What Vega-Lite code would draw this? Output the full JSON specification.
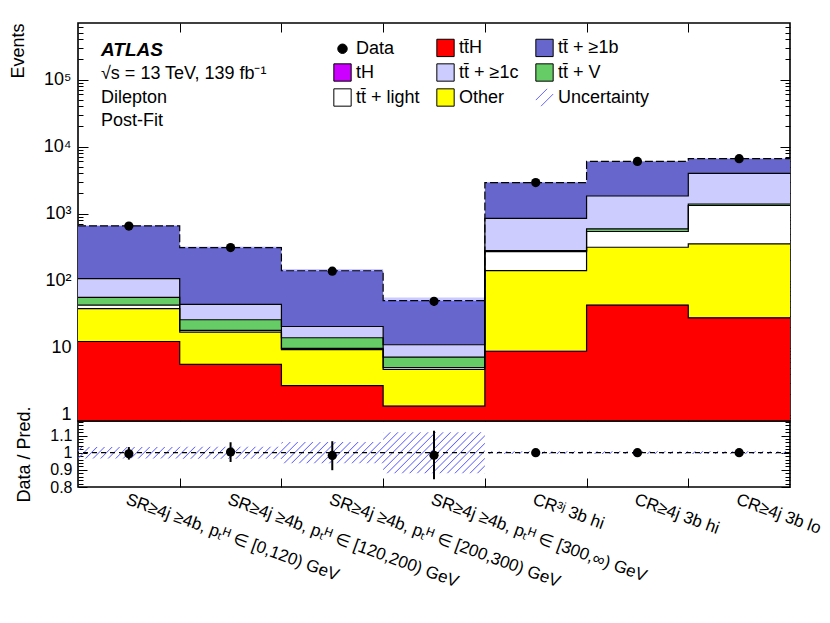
{
  "$schema": "https://vega.github.io/schema/vega-lite/v6.json",
  "background": "white",
  "padding": {"left": 8, "top": 17, "right": 10, "bottom": 5},
  "datasets": {
    "hist": [
      {"p": "tt\u0304H", "e": 0, "lo": 0.1, "hi": 12.3}, {"p": "tt\u0304H", "e": 1, "lo": 0.1, "hi": 5.6},
      {"p": "tt\u0304H", "e": 2, "lo": 0.1, "hi": 2.7}, {"p": "tt\u0304H", "e": 3, "lo": 0.1, "hi": 1.33},
      {"p": "tt\u0304H", "e": 4, "lo": 0.1, "hi": 8.8}, {"p": "tt\u0304H", "e": 5, "lo": 0.1, "hi": 43},
      {"p": "tt\u0304H", "e": 6, "lo": 0.1, "hi": 27.7}, {"p": "tt\u0304H", "e": 7, "lo": 0.1, "hi": 27.7},
      {"p": "tH", "e": 0, "lo": 12.3, "hi": 12.5}, {"p": "tH", "e": 1, "lo": 5.6, "hi": 5.7},
      {"p": "tH", "e": 2, "lo": 2.7, "hi": 2.75}, {"p": "tH", "e": 3, "lo": 1.33, "hi": 1.36},
      {"p": "tH", "e": 4, "lo": 8.8, "hi": 9.0}, {"p": "tH", "e": 5, "lo": 43, "hi": 44},
      {"p": "tH", "e": 6, "lo": 27.7, "hi": 28.3}, {"p": "tH", "e": 7, "lo": 27.7, "hi": 28.3},
      {"p": "Other", "e": 0, "lo": 12.5, "hi": 38}, {"p": "Other", "e": 1, "lo": 5.7, "hi": 17},
      {"p": "Other", "e": 2, "lo": 2.75, "hi": 9.3}, {"p": "Other", "e": 3, "lo": 1.36, "hi": 4.7},
      {"p": "Other", "e": 4, "lo": 9.0, "hi": 141}, {"p": "Other", "e": 5, "lo": 44, "hi": 314},
      {"p": "Other", "e": 6, "lo": 28.3, "hi": 353}, {"p": "Other", "e": 7, "lo": 28.3, "hi": 353},
      {"p": "tt\u0304 + light", "e": 0, "lo": 38, "hi": 43}, {"p": "tt\u0304 + light", "e": 1, "lo": 17, "hi": 18},
      {"p": "tt\u0304 + light", "e": 2, "lo": 9.3, "hi": 9.7}, {"p": "tt\u0304 + light", "e": 3, "lo": 4.7, "hi": 5.0},
      {"p": "tt\u0304 + light", "e": 4, "lo": 141, "hi": 270}, {"p": "tt\u0304 + light", "e": 5, "lo": 314, "hi": 540},
      {"p": "tt\u0304 + light", "e": 6, "lo": 353, "hi": 1320}, {"p": "tt\u0304 + light", "e": 7, "lo": 353, "hi": 1320},
      {"p": "tt\u0304 + V", "e": 0, "lo": 43, "hi": 56}, {"p": "tt\u0304 + V", "e": 1, "lo": 18, "hi": 26},
      {"p": "tt\u0304 + V", "e": 2, "lo": 9.7, "hi": 14}, {"p": "tt\u0304 + V", "e": 3, "lo": 5.0, "hi": 7.2},
      {"p": "tt\u0304 + V", "e": 4, "lo": 270, "hi": 280}, {"p": "tt\u0304 + V", "e": 5, "lo": 540, "hi": 590},
      {"p": "tt\u0304 + V", "e": 6, "lo": 1320, "hi": 1390}, {"p": "tt\u0304 + V", "e": 7, "lo": 1320, "hi": 1390},
      {"p": "tt\u0304 + ≥1c", "e": 0, "lo": 56, "hi": 107}, {"p": "tt\u0304 + ≥1c", "e": 1, "lo": 26, "hi": 44},
      {"p": "tt\u0304 + ≥1c", "e": 2, "lo": 14, "hi": 20.6}, {"p": "tt\u0304 + ≥1c", "e": 3, "lo": 7.2, "hi": 11},
      {"p": "tt\u0304 + ≥1c", "e": 4, "lo": 280, "hi": 850}, {"p": "tt\u0304 + ≥1c", "e": 5, "lo": 590, "hi": 1830},
      {"p": "tt\u0304 + ≥1c", "e": 6, "lo": 1390, "hi": 3970}, {"p": "tt\u0304 + ≥1c", "e": 7, "lo": 1390, "hi": 3970},
      {"p": "tt\u0304 + ≥1b", "e": 0, "lo": 107, "hi": 655}, {"p": "tt\u0304 + ≥1b", "e": 1, "lo": 44, "hi": 310},
      {"p": "tt\u0304 + ≥1b", "e": 2, "lo": 20.6, "hi": 140}, {"p": "tt\u0304 + ≥1b", "e": 3, "lo": 11, "hi": 50},
      {"p": "tt\u0304 + ≥1b", "e": 4, "lo": 850, "hi": 2900}, {"p": "tt\u0304 + ≥1b", "e": 5, "lo": 1830, "hi": 6000},
      {"p": "tt\u0304 + ≥1b", "e": 6, "lo": 3970, "hi": 6600}, {"p": "tt\u0304 + ≥1b", "e": 7, "lo": 3970, "hi": 6600}
    ],
    "unc": [
      {"e": 0, "plo": 633, "phi": 677, "ulo": 0.966, "uhi": 1.034},
      {"e": 1, "plo": 299, "phi": 321, "ulo": 0.965, "uhi": 1.035},
      {"e": 2, "plo": 131, "phi": 149, "ulo": 0.938, "uhi": 1.062},
      {"e": 3, "plo": 44, "phi": 56, "ulo": 0.88, "uhi": 1.12},
      {"e": 4, "plo": 2877, "phi": 2923, "ulo": 0.992, "uhi": 1.008},
      {"e": 5, "plo": 5952, "phi": 6048, "ulo": 0.992, "uhi": 1.008},
      {"e": 6, "plo": 6547, "phi": 6653, "ulo": 0.992, "uhi": 1.008},
      {"e": 7, "plo": 6547, "phi": 6653, "ulo": 0.992, "uhi": 1.008}
    ],
    "pts": [
      {"b": 0.5, "n": 651, "nlo": 626, "nhi": 676, "r": 0.994, "rlo": 0.96, "rhi": 1.033},
      {"b": 1.5, "n": 311, "nlo": 293, "nhi": 329, "r": 1.004, "rlo": 0.946, "rhi": 1.061},
      {"b": 2.5, "n": 138, "nlo": 126, "nhi": 150, "r": 0.984, "rlo": 0.898, "rhi": 1.067},
      {"b": 3.5, "n": 49, "nlo": 42, "nhi": 56, "r": 0.985, "rlo": 0.845, "rhi": 1.128},
      {"b": 4.5, "n": 2900, "nlo": 2846, "nhi": 2954, "r": 1.0, "rlo": 0.981, "rhi": 1.019},
      {"b": 5.5, "n": 6000, "nlo": 5923, "nhi": 6077, "r": 1.0, "rlo": 0.987, "rhi": 1.013},
      {"b": 6.5, "n": 6600, "nlo": 6519, "nhi": 6681, "r": 1.0, "rlo": 0.988, "rhi": 1.012}
    ]
  },
  "spacing": 0,
  "bounds": "flush",
  "resolve": {"scale": {"x": "independent", "y": "independent"}},
  "vconcat": [
    {
      "width": 712,
      "height": 398,
      "resolve": {"axis": {"x": "independent", "y": "independent"}},
      "layer": [
        {
          "data": {"name": "hist"},
          "mark": {"type": "area", "interpolate": "step-after"},
          "encoding": {
            "x": {
              "field": "e", "type": "quantitative",
              "scale": {"domain": [0, 7], "nice": false, "zero": false},
              "axis": {"orient": "bottom", "values": [1, 2, 3, 4, 5, 6], "labels": false, "tickSize": -9, "title": null}
            },
            "y": {
              "field": "hi", "type": "quantitative", "stack": null,
              "scale": {"type": "log", "domain": [0.8, 700000], "nice": false, "clamp": true},
              "axis": {
                "orient": "left",
                "title": "Events",
                "titleAnchor": "end",
                "titlePadding": 16,
                "values": [0.9, 1, 2, 3, 4, 5, 6, 7, 8, 9, 10, 20, 30, 40, 50, 60, 70, 80, 90, 100, 200, 300, 400, 500, 600, 700, 800, 900, 1000, 2000, 3000, 4000, 5000, 6000, 7000, 8000, 9000, 10000, 20000, 30000, 40000, 50000, 60000, 70000, 80000, 90000, 100000, 200000, 300000, 400000, 500000, 600000],
                "labelExpr": "datum.value == 1 ? '1' : datum.value == 10 ? '10' : datum.value == 100 ? '10²' : datum.value == 1000 ? '10³' : datum.value == 10000 ? '10⁴' : datum.value == 100000 ? '10⁵' : ''",
                "tickSize": {"condition": {"test": "indexof([1, 10, 100, 1000, 10000, 100000], datum.value) >= 0", "value": -10}, "value": -5},
                "labelPadding": 17,
                "labelOverlap": false
              }
            },
            "y2": {"field": "lo"},
            "color": {
              "field": "p", "type": "nominal",
              "scale": {
                "domain": ["Data", "tH", "tt\u0304 + light", "tt\u0304H", "tt\u0304 + ≥1c", "Other", "tt\u0304 + ≥1b", "tt\u0304 + V", "Uncertainty"],
                "range": ["black", "#cc00ff", "#ffffff", "#ff0000", "#ccccff", "#ffff00", "#6666cc", "#66cc66", "#6666ff"]
              },
              "legend": {
                "orient": "none",
                "legendX": 255,
                "legendY": 15,
                "columns": 3,
                "title": null,
                "padding": 0,
                "labelFontSize": 18,
                "labelColor": "black",
                "labelOffset": 4,
                "symbolSize": 300,
                "symbolStrokeWidth": 1,
                "rowPadding": 2,
                "columnPadding": 14,
                "encode": {
                  "symbols": {
                    "update": {
                      "shape": {"signal": "datum.value === 'Data' ? 'circle' : datum.value === 'Uncertainty' ? 'M-1,0.3L0.3,-1M-0.4,1L1,-0.4' : 'square'"},
                      "size": {"signal": "datum.value === 'Data' ? 90 : 300"},
                      "stroke": {"signal": "datum.value === 'Uncertainty' ? '#6666ff' : 'black'"},
                      "fill": [{"test": "datum.value === 'Uncertainty'", "value": "transparent"}, {"scale": "color", "field": "value"}],
                      "strokeWidth": {"value": 1},
                      "opacity": {"value": 1}
                    }
                  }
                }
              }
            }
          }
        },
        {
          "data": {"name": "unc"},
          "mark": {"type": "area", "interpolate": "step-after", "fill": "#6666ff", "fillOpacity": 0.35},
          "encoding": {
            "x": {"field": "e", "type": "quantitative", "axis": null},
            "y": {"field": "phi", "type": "quantitative", "axis": null},
            "y2": {"field": "plo"}
          }
        },
        {
          "data": {"name": "hist"},
          "transform": [{"filter": "datum.p !== 'tH' && datum.p !== 'tt\u0304 + ≥1b'"}],
          "mark": {"type": "line", "interpolate": "step-after", "color": "black", "strokeWidth": 1.2},
          "encoding": {
            "x": {"field": "e", "type": "quantitative", "axis": null},
            "y": {"field": "hi", "type": "quantitative", "axis": null},
            "detail": {"field": "p"}
          }
        },
        {
          "data": {"name": "hist"},
          "transform": [{"filter": "datum.p === 'tt\u0304 + ≥1b'"}],
          "mark": {"type": "line", "interpolate": "step-after", "color": "black", "strokeWidth": 1.2, "strokeDash": [8, 3]},
          "encoding": {
            "x": {"field": "e", "type": "quantitative", "axis": null},
            "y": {"field": "hi", "type": "quantitative", "axis": null}
          }
        },
        {
          "data": {"name": "pts"},
          "mark": {"type": "rule", "color": "black", "strokeWidth": 2},
          "encoding": {
            "x": {"field": "b", "type": "quantitative", "axis": null},
            "y": {"field": "nlo", "type": "quantitative", "axis": null},
            "y2": {"field": "nhi"}
          }
        },
        {
          "data": {"name": "pts"},
          "mark": {"type": "circle", "color": "black", "size": 85, "opacity": 1},
          "encoding": {
            "x": {
              "field": "b", "type": "quantitative",
              "axis": {"orient": "top", "values": [1, 2, 3, 4, 5, 6], "labels": false, "tickSize": -9, "title": null}
            },
            "y": {
              "field": "n", "type": "quantitative",
              "axis": {
                "orient": "right", "labels": false, "title": null,
                "values": [0.9, 1, 2, 3, 4, 5, 6, 7, 8, 9, 10, 20, 30, 40, 50, 60, 70, 80, 90, 100, 200, 300, 400, 500, 600, 700, 800, 900, 1000, 2000, 3000, 4000, 5000, 6000, 7000, 8000, 9000, 10000, 20000, 30000, 40000, 50000, 60000, 70000, 80000, 90000, 100000, 200000, 300000, 400000, 500000, 600000],
                "tickSize": {"condition": {"test": "indexof([1, 10, 100, 1000, 10000, 100000], datum.value) >= 0", "value": -10}, "value": -5}
              }
            }
          }
        },
        {
          "data": {"values": [{}]},
          "mark": {"type": "text", "text": "ATLAS", "align": "left", "baseline": "middle", "fontSize": 19, "fontStyle": "italic", "fontWeight": "bold", "color": "black"},
          "encoding": {
            "x": {"datum": 0.226, "type": "quantitative", "axis": null},
            "y": {"datum": 281000, "type": "quantitative", "axis": null}
          }
        },
        {
          "data": {"values": [{}]},
          "mark": {"type": "text", "text": ["√s = 13 TeV, 139 fb⁻¹", "Dilepton", "Post-Fit"], "align": "left", "baseline": "top", "fontSize": 18, "lineHeight": 23.5, "color": "black"},
          "encoding": {
            "x": {"datum": 0.226, "type": "quantitative", "axis": null},
            "y": {"datum": 165000, "type": "quantitative", "axis": null}
          }
        }
      ]
    },
    {
      "width": 712,
      "height": 66,
      "resolve": {"axis": {"x": "independent", "y": "independent"}},
      "layer": [
        {
          "data": {"name": "unc"},
          "mark": {
            "type": "area", "interpolate": "step-after",
            "fill": {
              "gradient": "linear", "x1": 0, "y1": 0, "x2": 1.0542, "y2": 0.0609,
              "stops": [
{"offset":0.0035,"color":"#66f0"},{"offset":0.005,"color":"#66f"},{"offset":0.0065,"color":"#66f0"},
{"offset":0.0135,"color":"#66f0"},{"offset":0.015,"color":"#66f"},{"offset":0.0165,"color":"#66f0"},
{"offset":0.0235,"color":"#66f0"},{"offset":0.025,"color":"#66f"},{"offset":0.0265,"color":"#66f0"},
{"offset":0.0335,"color":"#66f0"},{"offset":0.035,"color":"#66f"},{"offset":0.0365,"color":"#66f0"},
{"offset":0.0435,"color":"#66f0"},{"offset":0.045,"color":"#66f"},{"offset":0.0465,"color":"#66f0"},
{"offset":0.0535,"color":"#66f0"},{"offset":0.055,"color":"#66f"},{"offset":0.0565,"color":"#66f0"},
{"offset":0.0635,"color":"#66f0"},{"offset":0.065,"color":"#66f"},{"offset":0.0665,"color":"#66f0"},
{"offset":0.0735,"color":"#66f0"},{"offset":0.075,"color":"#66f"},{"offset":0.0765,"color":"#66f0"},
{"offset":0.0835,"color":"#66f0"},{"offset":0.085,"color":"#66f"},{"offset":0.0865,"color":"#66f0"},
{"offset":0.0935,"color":"#66f0"},{"offset":0.095,"color":"#66f"},{"offset":0.0965,"color":"#66f0"},
{"offset":0.1035,"color":"#66f0"},{"offset":0.105,"color":"#66f"},{"offset":0.1065,"color":"#66f0"},
{"offset":0.1135,"color":"#66f0"},{"offset":0.115,"color":"#66f"},{"offset":0.1165,"color":"#66f0"},
{"offset":0.1235,"color":"#66f0"},{"offset":0.125,"color":"#66f"},{"offset":0.1265,"color":"#66f0"},
{"offset":0.1335,"color":"#66f0"},{"offset":0.135,"color":"#66f"},{"offset":0.1365,"color":"#66f0"},
{"offset":0.1435,"color":"#66f0"},{"offset":0.145,"color":"#66f"},{"offset":0.1465,"color":"#66f0"},
{"offset":0.1535,"color":"#66f0"},{"offset":0.155,"color":"#66f"},{"offset":0.1565,"color":"#66f0"},
{"offset":0.1635,"color":"#66f0"},{"offset":0.165,"color":"#66f"},{"offset":0.1665,"color":"#66f0"},
{"offset":0.1735,"color":"#66f0"},{"offset":0.175,"color":"#66f"},{"offset":0.1765,"color":"#66f0"},
{"offset":0.1835,"color":"#66f0"},{"offset":0.185,"color":"#66f"},{"offset":0.1865,"color":"#66f0"},
{"offset":0.1935,"color":"#66f0"},{"offset":0.195,"color":"#66f"},{"offset":0.1965,"color":"#66f0"},
{"offset":0.2035,"color":"#66f0"},{"offset":0.205,"color":"#66f"},{"offset":0.2065,"color":"#66f0"},
{"offset":0.2135,"color":"#66f0"},{"offset":0.215,"color":"#66f"},{"offset":0.2165,"color":"#66f0"},
{"offset":0.2235,"color":"#66f0"},{"offset":0.225,"color":"#66f"},{"offset":0.2265,"color":"#66f0"},
{"offset":0.2335,"color":"#66f0"},{"offset":0.235,"color":"#66f"},{"offset":0.2365,"color":"#66f0"},
{"offset":0.2435,"color":"#66f0"},{"offset":0.245,"color":"#66f"},{"offset":0.2465,"color":"#66f0"},
{"offset":0.2535,"color":"#66f0"},{"offset":0.255,"color":"#66f"},{"offset":0.2565,"color":"#66f0"},
{"offset":0.2635,"color":"#66f0"},{"offset":0.265,"color":"#66f"},{"offset":0.2665,"color":"#66f0"},
{"offset":0.2735,"color":"#66f0"},{"offset":0.275,"color":"#66f"},{"offset":0.2765,"color":"#66f0"},
{"offset":0.2835,"color":"#66f0"},{"offset":0.285,"color":"#66f"},{"offset":0.2865,"color":"#66f0"},
{"offset":0.2935,"color":"#66f0"},{"offset":0.295,"color":"#66f"},{"offset":0.2965,"color":"#66f0"},
{"offset":0.3035,"color":"#66f0"},{"offset":0.305,"color":"#66f"},{"offset":0.3065,"color":"#66f0"},
{"offset":0.3135,"color":"#66f0"},{"offset":0.315,"color":"#66f"},{"offset":0.3165,"color":"#66f0"},
{"offset":0.3235,"color":"#66f0"},{"offset":0.325,"color":"#66f"},{"offset":0.3265,"color":"#66f0"},
{"offset":0.3335,"color":"#66f0"},{"offset":0.335,"color":"#66f"},{"offset":0.3365,"color":"#66f0"},
{"offset":0.3435,"color":"#66f0"},{"offset":0.345,"color":"#66f"},{"offset":0.3465,"color":"#66f0"},
{"offset":0.3535,"color":"#66f0"},{"offset":0.355,"color":"#66f"},{"offset":0.3565,"color":"#66f0"},
{"offset":0.3635,"color":"#66f0"},{"offset":0.365,"color":"#66f"},{"offset":0.3665,"color":"#66f0"},
{"offset":0.3735,"color":"#66f0"},{"offset":0.375,"color":"#66f"},{"offset":0.3765,"color":"#66f0"},
{"offset":0.3835,"color":"#66f0"},{"offset":0.385,"color":"#66f"},{"offset":0.3865,"color":"#66f0"},
{"offset":0.3935,"color":"#66f0"},{"offset":0.395,"color":"#66f"},{"offset":0.3965,"color":"#66f0"},
{"offset":0.4035,"color":"#66f0"},{"offset":0.405,"color":"#66f"},{"offset":0.4065,"color":"#66f0"},
{"offset":0.4135,"color":"#66f0"},{"offset":0.415,"color":"#66f"},{"offset":0.4165,"color":"#66f0"},
{"offset":0.4235,"color":"#66f0"},{"offset":0.425,"color":"#66f"},{"offset":0.4265,"color":"#66f0"},
{"offset":0.4335,"color":"#66f0"},{"offset":0.435,"color":"#66f"},{"offset":0.4365,"color":"#66f0"},
{"offset":0.4435,"color":"#66f0"},{"offset":0.445,"color":"#66f"},{"offset":0.4465,"color":"#66f0"},
{"offset":0.4535,"color":"#66f0"},{"offset":0.455,"color":"#66f"},{"offset":0.4565,"color":"#66f0"},
{"offset":0.4635,"color":"#66f0"},{"offset":0.465,"color":"#66f"},{"offset":0.4665,"color":"#66f0"},
{"offset":0.4735,"color":"#66f0"},{"offset":0.475,"color":"#66f"},{"offset":0.4765,"color":"#66f0"},
{"offset":0.4835,"color":"#66f0"},{"offset":0.485,"color":"#66f"},{"offset":0.4865,"color":"#66f0"},
{"offset":0.4935,"color":"#66f0"},{"offset":0.495,"color":"#66f"},{"offset":0.4965,"color":"#66f0"},
{"offset":0.5035,"color":"#66f0"},{"offset":0.505,"color":"#66f"},{"offset":0.5065,"color":"#66f0"},
{"offset":0.5135,"color":"#66f0"},{"offset":0.515,"color":"#66f"},{"offset":0.5165,"color":"#66f0"},
{"offset":0.5235,"color":"#66f0"},{"offset":0.525,"color":"#66f"},{"offset":0.5265,"color":"#66f0"},
{"offset":0.5335,"color":"#66f0"},{"offset":0.535,"color":"#66f"},{"offset":0.5365,"color":"#66f0"},
{"offset":0.5435,"color":"#66f0"},{"offset":0.545,"color":"#66f"},{"offset":0.5465,"color":"#66f0"},
{"offset":0.5535,"color":"#66f0"},{"offset":0.555,"color":"#66f"},{"offset":0.5565,"color":"#66f0"},
{"offset":0.5635,"color":"#66f0"},{"offset":0.565,"color":"#66f"},{"offset":0.5665,"color":"#66f0"},
{"offset":0.5735,"color":"#66f0"},{"offset":0.575,"color":"#66f"},{"offset":0.5765,"color":"#66f0"},
{"offset":0.5835,"color":"#66f0"},{"offset":0.585,"color":"#66f"},{"offset":0.5865,"color":"#66f0"},
{"offset":0.5935,"color":"#66f0"},{"offset":0.595,"color":"#66f"},{"offset":0.5965,"color":"#66f0"},
{"offset":0.6035,"color":"#66f0"},{"offset":0.605,"color":"#66f"},{"offset":0.6065,"color":"#66f0"},
{"offset":0.6135,"color":"#66f0"},{"offset":0.615,"color":"#66f"},{"offset":0.6165,"color":"#66f0"},
{"offset":0.6235,"color":"#66f0"},{"offset":0.625,"color":"#66f"},{"offset":0.6265,"color":"#66f0"},
{"offset":0.6335,"color":"#66f0"},{"offset":0.635,"color":"#66f"},{"offset":0.6365,"color":"#66f0"},
{"offset":0.6435,"color":"#66f0"},{"offset":0.645,"color":"#66f"},{"offset":0.6465,"color":"#66f0"},
{"offset":0.6535,"color":"#66f0"},{"offset":0.655,"color":"#66f"},{"offset":0.6565,"color":"#66f0"},
{"offset":0.6635,"color":"#66f0"},{"offset":0.665,"color":"#66f"},{"offset":0.6665,"color":"#66f0"},
{"offset":0.6735,"color":"#66f0"},{"offset":0.675,"color":"#66f"},{"offset":0.6765,"color":"#66f0"},
{"offset":0.6835,"color":"#66f0"},{"offset":0.685,"color":"#66f"},{"offset":0.6865,"color":"#66f0"},
{"offset":0.6935,"color":"#66f0"},{"offset":0.695,"color":"#66f"},{"offset":0.6965,"color":"#66f0"},
{"offset":0.7035,"color":"#66f0"},{"offset":0.705,"color":"#66f"},{"offset":0.7065,"color":"#66f0"},
{"offset":0.7135,"color":"#66f0"},{"offset":0.715,"color":"#66f"},{"offset":0.7165,"color":"#66f0"},
{"offset":0.7235,"color":"#66f0"},{"offset":0.725,"color":"#66f"},{"offset":0.7265,"color":"#66f0"},
{"offset":0.7335,"color":"#66f0"},{"offset":0.735,"color":"#66f"},{"offset":0.7365,"color":"#66f0"},
{"offset":0.7435,"color":"#66f0"},{"offset":0.745,"color":"#66f"},{"offset":0.7465,"color":"#66f0"},
{"offset":0.7535,"color":"#66f0"},{"offset":0.755,"color":"#66f"},{"offset":0.7565,"color":"#66f0"},
{"offset":0.7635,"color":"#66f0"},{"offset":0.765,"color":"#66f"},{"offset":0.7665,"color":"#66f0"},
{"offset":0.7735,"color":"#66f0"},{"offset":0.775,"color":"#66f"},{"offset":0.7765,"color":"#66f0"},
{"offset":0.7835,"color":"#66f0"},{"offset":0.785,"color":"#66f"},{"offset":0.7865,"color":"#66f0"},
{"offset":0.7935,"color":"#66f0"},{"offset":0.795,"color":"#66f"},{"offset":0.7965,"color":"#66f0"},
{"offset":0.8035,"color":"#66f0"},{"offset":0.805,"color":"#66f"},{"offset":0.8065,"color":"#66f0"},
{"offset":0.8135,"color":"#66f0"},{"offset":0.815,"color":"#66f"},{"offset":0.8165,"color":"#66f0"},
{"offset":0.8235,"color":"#66f0"},{"offset":0.825,"color":"#66f"},{"offset":0.8265,"color":"#66f0"},
{"offset":0.8335,"color":"#66f0"},{"offset":0.835,"color":"#66f"},{"offset":0.8365,"color":"#66f0"},
{"offset":0.8435,"color":"#66f0"},{"offset":0.845,"color":"#66f"},{"offset":0.8465,"color":"#66f0"},
{"offset":0.8535,"color":"#66f0"},{"offset":0.855,"color":"#66f"},{"offset":0.8565,"color":"#66f0"},
{"offset":0.8635,"color":"#66f0"},{"offset":0.865,"color":"#66f"},{"offset":0.8665,"color":"#66f0"},
{"offset":0.8735,"color":"#66f0"},{"offset":0.875,"color":"#66f"},{"offset":0.8765,"color":"#66f0"},
{"offset":0.8835,"color":"#66f0"},{"offset":0.885,"color":"#66f"},{"offset":0.8865,"color":"#66f0"},
{"offset":0.8935,"color":"#66f0"},{"offset":0.895,"color":"#66f"},{"offset":0.8965,"color":"#66f0"},
{"offset":0.9035,"color":"#66f0"},{"offset":0.905,"color":"#66f"},{"offset":0.9065,"color":"#66f0"},
{"offset":0.9135,"color":"#66f0"},{"offset":0.915,"color":"#66f"},{"offset":0.9165,"color":"#66f0"},
{"offset":0.9235,"color":"#66f0"},{"offset":0.925,"color":"#66f"},{"offset":0.9265,"color":"#66f0"},
{"offset":0.9335,"color":"#66f0"},{"offset":0.935,"color":"#66f"},{"offset":0.9365,"color":"#66f0"},
{"offset":0.9435,"color":"#66f0"},{"offset":0.945,"color":"#66f"},{"offset":0.9465,"color":"#66f0"},
{"offset":0.9535,"color":"#66f0"},{"offset":0.955,"color":"#66f"},{"offset":0.9565,"color":"#66f0"},
{"offset":0.9635,"color":"#66f0"},{"offset":0.965,"color":"#66f"},{"offset":0.9665,"color":"#66f0"},
{"offset":0.9735,"color":"#66f0"},{"offset":0.975,"color":"#66f"},{"offset":0.9765,"color":"#66f0"},
{"offset":0.9835,"color":"#66f0"},{"offset":0.985,"color":"#66f"},{"offset":0.9865,"color":"#66f0"},
{"offset":0.9935,"color":"#66f0"},{"offset":0.995,"color":"#66f"},{"offset":0.9965,"color":"#66f0"}
              ]
            }
          },
          "encoding": {
            "x": {
              "field": "e", "type": "quantitative",
              "scale": {"domain": [0, 7], "nice": false, "zero": false},
              "axis": {
                "orient": "bottom", "title": null,
                "values": [0.5, 1, 1.5, 2, 2.5, 3, 3.5, 4, 4.5, 5, 5.5, 6, 6.5],
                "labelExpr": "datum.value % 1 ? ['SR≥4j ≥4b, pₜᴴ ∈ [0,120) GeV', 'SR≥4j ≥4b, pₜᴴ ∈ [120,200) GeV', 'SR≥4j ≥4b, pₜᴴ ∈ [200,300) GeV', 'SR≥4j ≥4b, pₜᴴ ∈ [300,∞) GeV', 'CR³ʲ 3b hi', 'CR≥4j 3b hi', 'CR≥4j 3b lo'][floor(datum.value)] : ''",
                "tickSize": {"condition": {"test": "datum.value % 1", "value": 0}, "value": -9},
                "labelAngle": 20,
                "labelAlign": "left",
                "labelBaseline": "top",
                "labelPadding": 4,
                "labelFontSize": 17,
                "labelOverlap": false,
                "labelFlush": false,
                "labelLimit": 500
              }
            },
            "y": {
              "field": "uhi", "type": "quantitative",
              "scale": {"domain": [0.8, 1.185], "nice": false, "zero": false},
              "axis": {
                "orient": "left",
                "title": "Data / Pred.",
                "titlePadding": 16,
                "values": [0.8, 0.82, 0.84, 0.86, 0.88, 0.9, 0.92, 0.94, 0.96, 0.98, 1, 1.02, 1.04, 1.06, 1.08, 1.1, 1.12, 1.14, 1.16, 1.18],
                "labelExpr": "abs(datum.value * 10 - round(datum.value * 10)) < 0.001 ? format(datum.value, '~g') : ''",
                "tickSize": {"condition": {"test": "abs(datum.value * 10 - round(datum.value * 10)) < 0.001", "value": -9}, "value": -5},
                "labelPadding": 15,
                "labelFontSize": 16,
                "labelOverlap": false
              }
            },
            "y2": {"field": "ulo"}
          }
        },
        {
          "data": {"values": [{}]},
          "mark": {"type": "rule", "color": "black", "strokeWidth": 1.3, "strokeDash": [5, 4]},
          "encoding": {
            "y": {"datum": 1, "type": "quantitative", "axis": null}
          }
        },
        {
          "data": {"name": "pts"},
          "mark": {"type": "rule", "color": "black", "strokeWidth": 2},
          "encoding": {
            "x": {"field": "b", "type": "quantitative", "axis": null},
            "y": {"field": "rlo", "type": "quantitative", "axis": null},
            "y2": {"field": "rhi"}
          }
        },
        {
          "data": {"name": "pts"},
          "mark": {"type": "circle", "color": "black", "size": 85, "opacity": 1},
          "encoding": {
            "x": {"field": "b", "type": "quantitative", "axis": null},
            "y": {
              "field": "r", "type": "quantitative",
              "axis": {
                "orient": "right", "labels": false, "title": null,
                "values": [0.8, 0.82, 0.84, 0.86, 0.88, 0.9, 0.92, 0.94, 0.96, 0.98, 1, 1.02, 1.04, 1.06, 1.08, 1.1, 1.12, 1.14, 1.16, 1.18],
                "tickSize": {"condition": {"test": "abs(datum.value * 10 - round(datum.value * 10)) < 0.001", "value": -9}, "value": -5}
              }
            }
          }
        }
      ]
    }
  ],
  "config": {
    "font": "Liberation Sans",
    "view": {"stroke": "black", "strokeWidth": 1.6},
    "axis": {
      "grid": false,
      "domain": false,
      "labelColor": "black",
      "labelFont": "Liberation Sans",
      "labelFontSize": 18,
      "tickColor": "black",
      "tickWidth": 1,
      "titleColor": "black",
      "titleFont": "Liberation Sans",
      "titleFontSize": 18,
      "titleFontWeight": "normal"
    },
    "legend": {"labelFont": "Liberation Sans"},
    "text": {"font": "Liberation Sans"}
  }
}
